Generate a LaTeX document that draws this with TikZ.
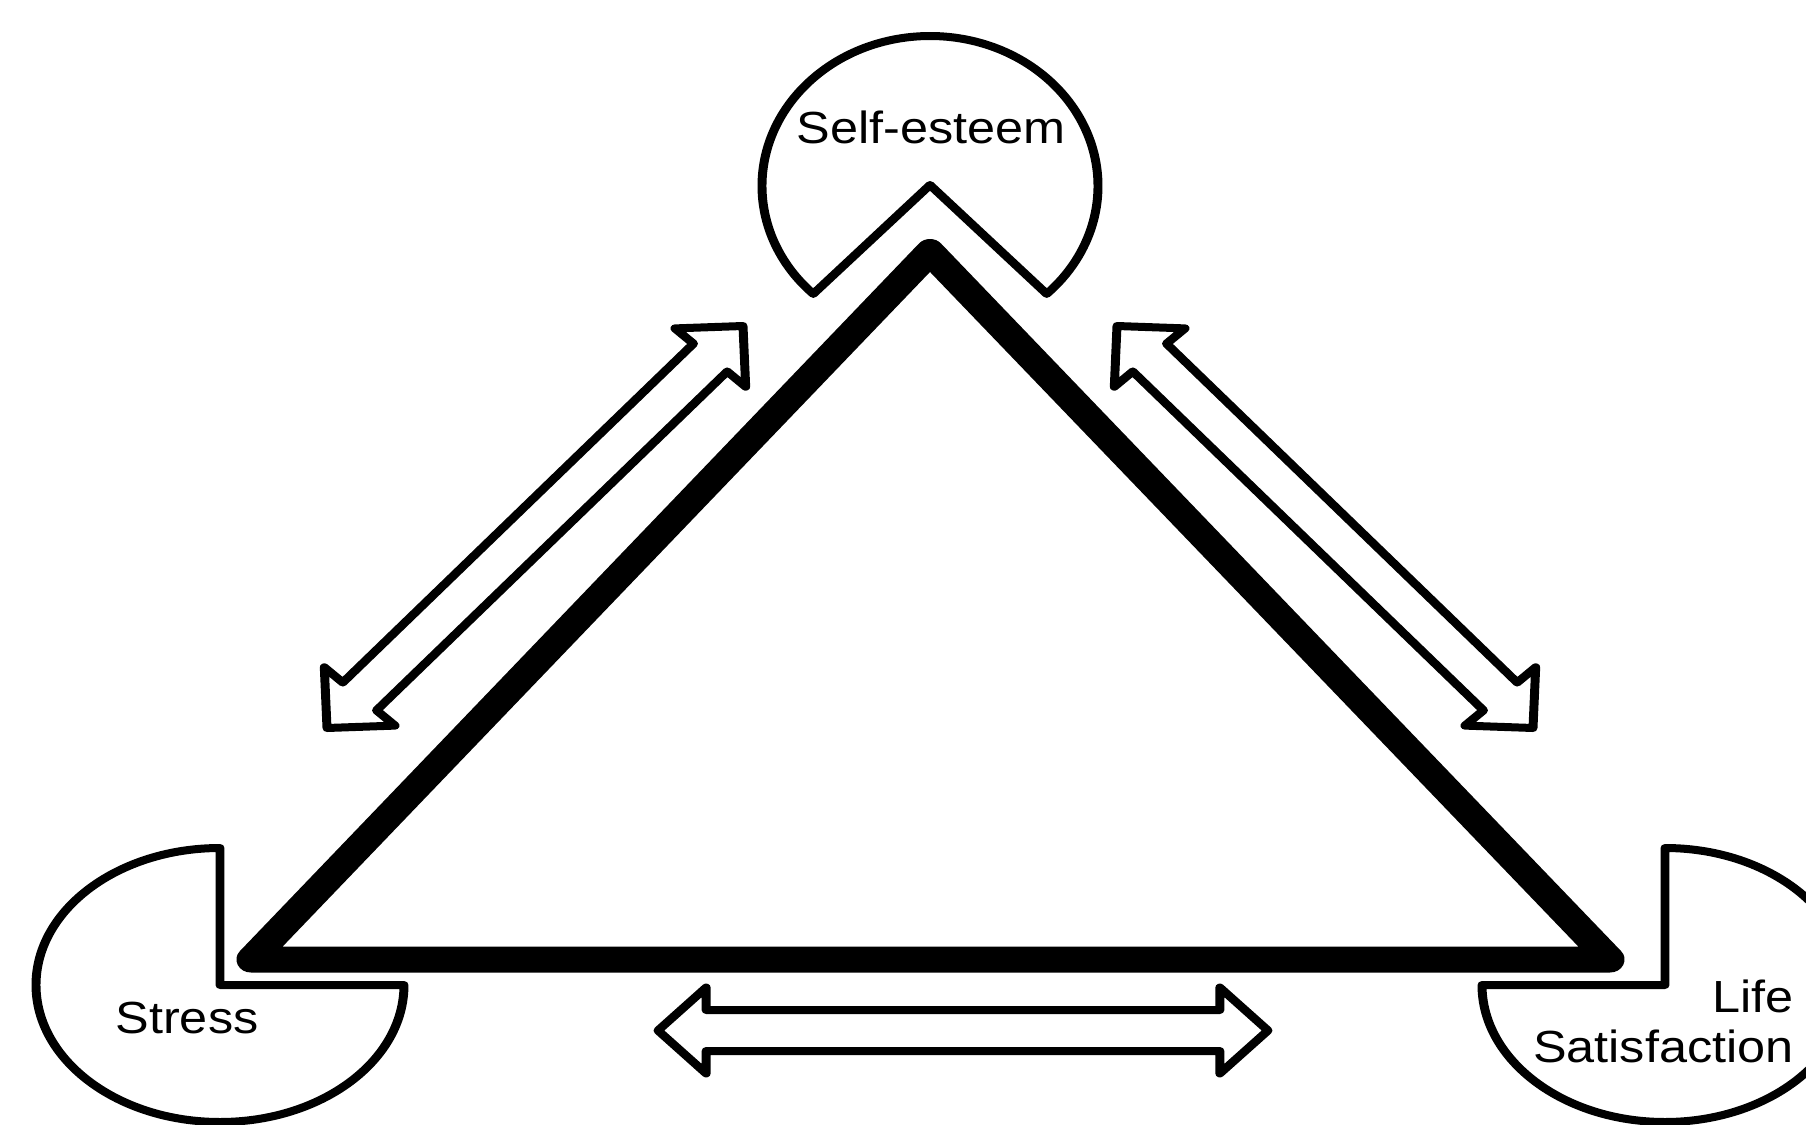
\documentclass[tikz,border=0pt]{standalone}
\usepackage{fontspec}
\setmainfont{Liberation Sans}
\usetikzlibrary{calc}
\tikzset{
  outline/.style={draw=black, line width=4pt, fill=white, line join=round},
  tri/.style={draw=black, line width=13pt, line join=round},
  lbl/.style={inner sep=0pt, font=\fontsize{22.5}{26}\selectfont, text=black},
}
\newcommand\blockarrow[2]{%
  \draw[outline] (#1) -- ($(#1)!30.4pt!45:(#2)$) -- ($(#1)!23.8pt!25.5:(#2)$)
    -- ($(#2)!23.8pt!-25.5:(#1)$) -- ($(#2)!30.4pt!-45:(#1)$) -- (#2)
    -- ($(#2)!30.4pt!45:(#1)$) -- ($(#2)!23.8pt!25.5:(#1)$)
    -- ($(#1)!23.8pt!-25.5:(#2)$) -- ($(#1)!30.4pt!-45:(#2)$) -- cycle;}
\begin{document}
\begin{tikzpicture}[x=0.5pt, y=-0.5pt]
\useasboundingbox (0,0) rectangle (1806,1125);
\clip (0,0) rectangle (1806,1125);
\fill[white] (0,0) rectangle (1806,1125);
\begin{scope}[transform canvas={xscale=1.12}, x=0.446429pt]
% named points (x in final pixels)
\coordinate (apex) at (930,252);
\coordinate (bl) at (251,959.5);
\coordinate (br) at (1610,959.5);
\coordinate (la1) at (327,728);
\coordinate (la2) at (743,326);
\coordinate (ra1) at (1117,326);
\coordinate (ra2) at (1533,728);
\coordinate (ba1) at (658,1030.5);
\coordinate (ba2) at (1268,1030.5);
% concept shapes
\draw[outline] ({930+168*cos(134)},{186+150*sin(134)})
  arc[start angle=134, end angle=406, x radius=168, y radius=150] -- (930,185) -- cycle;
\draw[outline] (220,985) -- (404,985)
  arc[start angle=0, end angle=270, x radius=184, y radius=137] -- cycle;
\draw[outline] (1665,985) -- (1482,985)
  arc[start angle=180, end angle=-90, x radius=183, y radius=137] -- cycle;
% triangle
\draw[tri] (apex) -- (bl) -- (br) -- cycle;
% arrows
\blockarrow{la1}{la2}
\blockarrow{ra1}{ra2}
\blockarrow{ba1}{ba2}
% labels
\node[lbl, anchor=base] (se) at (931,143) {Self-esteem};
\node[lbl, anchor=base] (st) at (187,1033) {Stress};
\node[lbl, anchor=base east] (ls1) at (1794,1012) {Life};
\node[lbl, anchor=base east] (ls2) at (1794,1062) {Satisfaction};
\end{scope}
\end{tikzpicture}
\end{document}
